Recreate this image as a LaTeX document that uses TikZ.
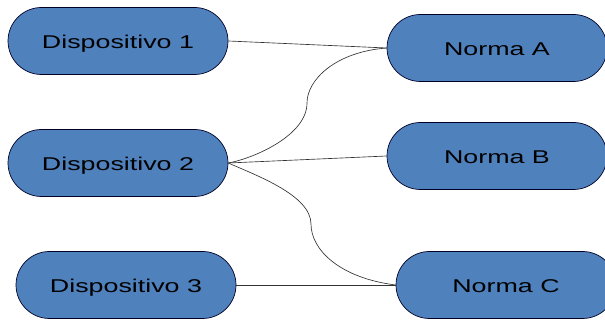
\documentclass[tikz,border=0pt]{standalone}
\usepackage{fontspec}
\setmainfont[FakeStretch=1.45]{Liberation Sans}
\definecolor{boxblue}{HTML}{4F81BD}
\definecolor{edgegray}{HTML}{333333}
\begin{document}
\begin{tikzpicture}[x=1pt,y=-1pt,
  pill/.style={draw=black!85!blue, line width=0.7pt, fill=boxblue, rounded corners=33.5pt,
    minimum width=220pt, minimum height=67pt, inner sep=0pt, text depth=0pt, text height=16pt,
    font=\fontsize{18.5}{21}\selectfont, text=black},
  link/.style={draw=edgegray, line width=0.65pt}]
\useasboundingbox (0,0) rectangle (605,320);
\node[pill] (d1) at (118,41) {Dispositivo 1};
\node[pill] (d2) at (118,163) {Dispositivo 2};
\node[pill] (d3) at (126,285) {Dispositivo 3};
\node[pill] (na) at (497,48) {Norma A};
\node[pill] (nb) at (497,156) {Norma B};
\node[pill] (nc) at (506,285) {Norma C};
\coordinate (ma) at (307,103);
\coordinate (mc) at (311,224);
\draw[link] (d1.east) -- (na.west);
\draw[link] (d2.east) .. controls (255,158) and (307,135) .. (ma)
  .. controls (307,80) and (335,52) .. (na.west);
\draw[link] (d2.east) -- (nb.west);
\draw[link] (d2.east) .. controls (255,175) and (311,195) .. (mc)
  .. controls (311,250) and (340,278) .. (nc.west);
\draw[link] (d3.east) -- (nc.west);
\end{tikzpicture}
\end{document}
